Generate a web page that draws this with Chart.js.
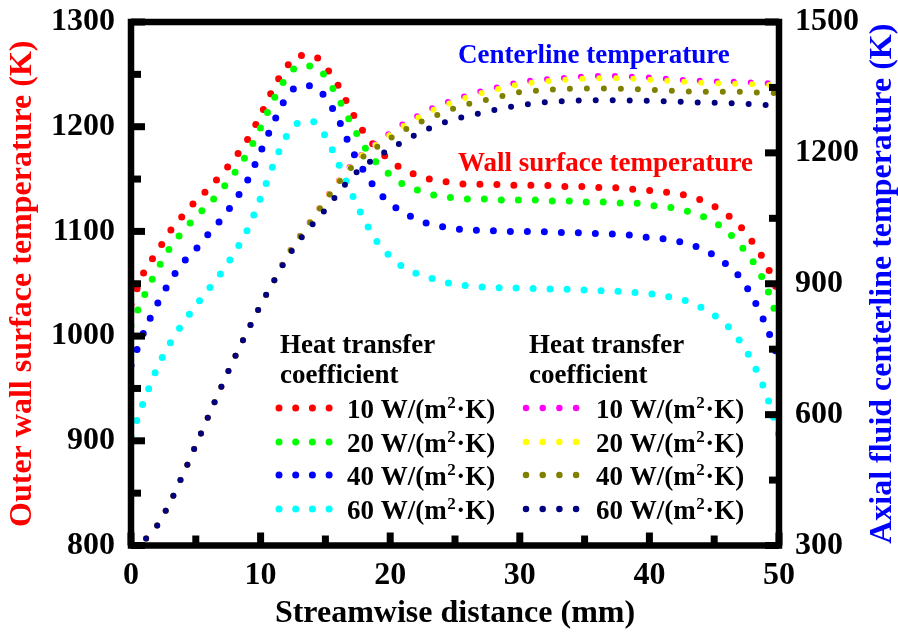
<!DOCTYPE html>
<html>
<head>
<meta charset="utf-8">
<script src="https://cdn.jsdelivr.net/npm/chart.js@4/dist/chart.umd.min.js"></script>
<style>
  html, body { margin: 0; padding: 0; background: #ffffff; }
  canvas { display: block; }
</style>
</head>
<body>
<canvas id="c" width="898" height="644"></canvas>
<script>
// ---------------- DATA ----------------
const distanceMm = [0,1,2,3,4,5,6,7,8,9,10,11,12,13,14,15,16,17,18,19,20,21,22,23,24,25,26,27,28,29,30,31,32,33,34,35,36,37,38,39,40,41,42,43,44,45,46,47,48,49,50];

// Outer wall surface temperature (K), left axis
const wall10 = [1030,1061,1080,1100,1115,1129,1141,1155,1170,1188,1211,1237,1257,1268,1268,1257,1239,1215,1194,1179,1168,1159,1154,1150,1148,1146,1145,1145,1145,1144,1144,1144,1144,1143,1143,1143,1142,1142,1141,1140,1139,1138,1136,1134,1130,1124,1116,1105,1089,1069,1040];
const wall20 = [1010,1038,1063,1084,1100,1114,1126,1140,1156,1175,1199,1226,1247,1258,1258,1248,1227,1203,1181,1165,1154,1145,1140,1136,1133,1132,1131,1131,1130,1130,1130,1130,1129,1129,1129,1128,1128,1128,1127,1127,1125,1124,1122,1119,1115,1109,1100,1087,1071,1048,1012];
const wall40 = [972,1004,1030,1052,1070,1083,1098,1112,1129,1149,1176,1204,1228,1239,1239,1228,1207,1179,1157,1139,1127,1118,1112,1107,1104.5,1102.5,1101.5,1101,1100.5,1100,1100,1100,1099.5,1099,1099,1098.5,1098,1097.5,1097,1096,1094,1093,1091,1088,1083.5,1077,1068,1056,1036,1010,977];
const wall60 = [904,938,969,993,1012,1029,1045,1061,1080,1102,1132,1164,1191,1204,1205,1191,1165,1137,1111,1090,1076,1066,1060,1056,1052,1049.5,1048,1047,1046.5,1046,1046,1045.5,1045,1045,1044.5,1044,1043.5,1043,1042.5,1041.5,1040.5,1039,1036,1033,1027.5,1020,1010,995,974,945,905];

// Axial fluid centerline temperature (K), right axis
const center10 = [300,312,345,398,462,530,598,666,731,792,851,905,962,1008,1050,1094,1135,1172,1201,1224,1246,1266,1283,1299,1312,1322,1332,1341,1348,1356,1362,1366,1368.5,1371,1373,1375,1376,1376,1375.5,1374,1372.5,1370.5,1368.5,1366.5,1365,1364,1363.5,1362.5,1361,1360,1358];
const center20 = [300,312,345,398,462,530,598,666,731,792,851,905,961,1007,1049,1093,1134,1170,1199,1221,1242,1261,1278,1294,1307,1318,1328,1337,1344,1351,1357,1361,1364,1366.5,1368.5,1370,1371,1371,1370.5,1369.5,1368,1366,1364,1362.5,1361,1360,1359,1358,1357,1356,1354];
const center40 = [300,312,345,398,462,530,598,666,731,792,851,905,960,1006,1048,1090,1131,1166,1193,1214,1233,1251,1266,1279,1291,1303,1312,1319,1325.5,1332.5,1339,1342,1344.5,1346,1347,1347.5,1347.5,1347.5,1347,1346,1345,1343.5,1342,1341,1340.5,1340,1340,1340,1338.5,1338,1337];
const center60 = [300,312,345,398,462,530,598,666,731,792,851,905,957,1000,1036,1070,1108,1144,1170,1191,1209,1226,1242,1256,1268,1277,1285,1291,1298,1304,1309,1313,1316,1318,1319.5,1320.5,1320.5,1320.5,1320.5,1320,1319.5,1318.5,1317.5,1316.5,1315.5,1315,1314,1313,1311.5,1309.5,1306];

const xTicks = [0,10,20,30,40,50];
const leftTicks = [800,900,1000,1100,1200,1300];
const rightTicks = [300,600,900,1200,1500];
const legendLabels = ["10 W/(m²·K)", "20 W/(m²·K)", "40 W/(m²·K)", "60 W/(m²·K)"];

// ---------------- STYLE ----------------
const FONT = '"Liberation Serif", "Times New Roman", serif';
const wallColors = ["#FF0000", "#00FF00", "#0000FF", "#00FFFF"];
const centerColors = ["#FF00FF", "#FFFF00", "#808000", "#000080"];
const DOT_GAP = 17;
const WALL_DOT = 7;
const CENTER_DOT = 6;

function pts(ys) { return distanceMm.map((x, i) => ({ x: x, y: ys[i] })); }

function ds(label, ys, color, axis, w, order) {
  return {
    label: label,
    data: pts(ys),
    yAxisID: axis,
    borderColor: color,
    backgroundColor: color,
    borderWidth: w,
    borderDash: [0, DOT_GAP],
    borderCapStyle: 'round',
    borderJoinStyle: 'round',
    pointRadius: 0,
    pointHoverRadius: 0,
    fill: false,
    cubicInterpolationMode: 'monotone',
    order: order
  };
}

const datasets = [
  ds("Wall 10", wall10, wallColors[0], 'y', WALL_DOT, 8),
  ds("Wall 20", wall20, wallColors[1], 'y', WALL_DOT, 7),
  ds("Wall 40", wall40, wallColors[2], 'y', WALL_DOT, 6),
  ds("Wall 60", wall60, wallColors[3], 'y', WALL_DOT, 5),
  ds("Center 10", center10, centerColors[0], 'y2', CENTER_DOT, 4),
  ds("Center 20", center20, centerColors[1], 'y2', CENTER_DOT, 3),
  ds("Center 40", center40, centerColors[2], 'y2', CENTER_DOT, 2),
  ds("Center 60", center60, centerColors[3], 'y2', CENTER_DOT, 1)
];

// draw "10 W/(m²·K)" with a raised, smaller superscript
function drawUnitLabel(ctx, text, x, y) {
  const parts = text.split('²');
  ctx.font = 'bold 27px ' + FONT;
  ctx.fillText(parts[0], x, y);
  let cx = x + ctx.measureText(parts[0]).width + 0.5;
  ctx.font = 'bold 17px ' + FONT;
  ctx.fillText('2', cx, y - 10);
  cx += ctx.measureText('2').width + 0.5;
  ctx.font = 'bold 27px ' + FONT;
  if (parts.length > 1) ctx.fillText(parts[1], cx, y);
}

// ---------------- PLUGINS ----------------
const framePlugin = {
  id: 'frame',
  afterDatasetsDraw(chart) {
    const ctx = chart.ctx;
    const a = chart.chartArea;
    const sx = chart.scales.x, sy = chart.scales.y, sy2 = chart.scales.y2;
    ctx.save();
    ctx.strokeStyle = '#000';
    ctx.lineCap = 'butt';
    ctx.lineWidth = 7;
    for (let v = 0; v <= 50; v += 5) {
      const px = sx.getPixelForValue(v);
      const len = (v % 10 === 0) ? 13 : 10;
      ctx.beginPath(); ctx.moveTo(px, a.bottom); ctx.lineTo(px, a.bottom - len); ctx.stroke();
    }
    for (let v = 800; v <= 1300; v += 50) {
      const py = sy.getPixelForValue(v);
      const len = (v % 100 === 0) ? 14 : 10;
      ctx.beginPath(); ctx.moveTo(a.left, py); ctx.lineTo(a.left + len, py); ctx.stroke();
    }
    for (let v = 300; v <= 1500; v += 150) {
      const py = sy2.getPixelForValue(v);
      const len = (v % 300 === 0) ? 14 : 10;
      ctx.beginPath(); ctx.moveTo(a.right, py); ctx.lineTo(a.right - len, py); ctx.stroke();
    }
    ctx.lineWidth = 6.5;
    ctx.lineJoin = 'miter';
    ctx.strokeRect(a.left, a.top, a.right - a.left, a.bottom - a.top);
    ctx.restore();
  },
  afterDraw(chart) {
    const ctx = chart.ctx;
    const a = chart.chartArea;
    ctx.save();
    ctx.font = 'bold 27px ' + FONT;
    ctx.textAlign = 'left';
    ctx.textBaseline = 'alphabetic';
    ctx.fillStyle = '#0000FF';
    ctx.fillText('Centerline temperature', 458, 63);
    ctx.fillStyle = '#FF0000';
    ctx.fillText('Wall surface temperature', 458, 171);

    const blocks = [
      { headX: 280, dotX: 279, textX: 347, colors: wallColors, w: WALL_DOT },
      { headX: 529, dotX: 526, textX: 596, colors: centerColors, w: CENTER_DOT + 0.5 }
    ];
    const baselines = [418, 452, 485, 519];
    blocks.forEach(b => {
      ctx.fillStyle = '#000';
      ctx.font = 'bold 27px ' + FONT;
      ctx.fillText('Heat transfer', b.headX, 353);
      ctx.fillText('coefficient', b.headX, 383);
      for (let i = 0; i < 4; i++) {
        const by = baselines[i];
        ctx.save();
        ctx.strokeStyle = b.colors[i];
        ctx.lineWidth = b.w;
        ctx.lineCap = 'round';
        ctx.setLineDash([0, 16.7]);
        ctx.beginPath();
        ctx.moveTo(b.dotX, by - 10);
        ctx.lineTo(b.dotX + 51, by - 10);
        ctx.stroke();
        ctx.restore();
        ctx.fillStyle = '#000';
        drawUnitLabel(ctx, legendLabels[i], b.textX, by);
      }
    });

    ctx.save();
    ctx.translate(883, (a.top + a.bottom) / 2);
    ctx.rotate(-Math.PI / 2);
    ctx.font = 'bold 32px ' + FONT;
    ctx.fillStyle = '#0000FF';
    ctx.textAlign = 'center';
    ctx.textBaseline = 'middle';
    ctx.fillText('Axial fluid centerline temperature (K)', 0, 0);
    ctx.restore();
    ctx.restore();
  }
};

// ---------------- CHART ----------------
const tickFont = { family: FONT, size: 32, weight: 'bold' };
const plain = v => String(v);
function zeroPad(s) { s.paddingTop = 0; s.paddingBottom = 0; s.paddingLeft = 0; s.paddingRight = 0; }

new Chart(document.getElementById('c'), {
  type: 'line',
  data: { datasets: datasets },
  options: {
    responsive: false,
    devicePixelRatio: 1,
    animation: false,
    events: [],
    layout: { padding: { top: 22, left: 0, right: 0, bottom: 0 } },
    plugins: { legend: { display: false }, tooltip: { enabled: false }, title: { display: false } },
    scales: {
      x: {
        type: 'linear', min: 0, max: 50,
        afterBuildTicks: s => { s.ticks = xTicks.map(v => ({ value: v })); },
        ticks: { font: tickFont, color: '#000', padding: 11, autoSkip: false, maxRotation: 0, callback: plain },
        grid: { display: false, drawTicks: false },
        border: { display: false },
        title: { display: true, text: 'Streamwise distance (mm)', color: '#000', font: tickFont, padding: { top: 0, bottom: 11 } },
        afterFit: s => { s.height = 98.5; zeroPad(s); }
      },
      y: {
        type: 'linear', position: 'left', min: 800, max: 1300,
        afterBuildTicks: s => { s.ticks = leftTicks.map(v => ({ value: v })); },
        ticks: { font: tickFont, color: '#000', padding: 16, autoSkip: false, callback: plain },
        grid: { display: false, drawTicks: false },
        border: { display: false },
        title: { display: true, text: 'Outer wall surface temperature (K)', color: '#FF0000', font: tickFont, padding: { top: 4, bottom: 0 } },
        afterFit: s => { s.width = 131; zeroPad(s); }
      },
      y2: {
        type: 'linear', position: 'right', min: 300, max: 1500,
        afterBuildTicks: s => { s.ticks = rightTicks.map(v => ({ value: v })); },
        ticks: { font: tickFont, color: '#000', padding: 16, autoSkip: false, callback: plain },
        grid: { display: false, drawTicks: false },
        border: { display: false },
        title: { display: false },
        afterFit: s => { s.width = 119; zeroPad(s); }
      }
    }
  },
  plugins: [framePlugin]
});
</script>
</body>
</html>
